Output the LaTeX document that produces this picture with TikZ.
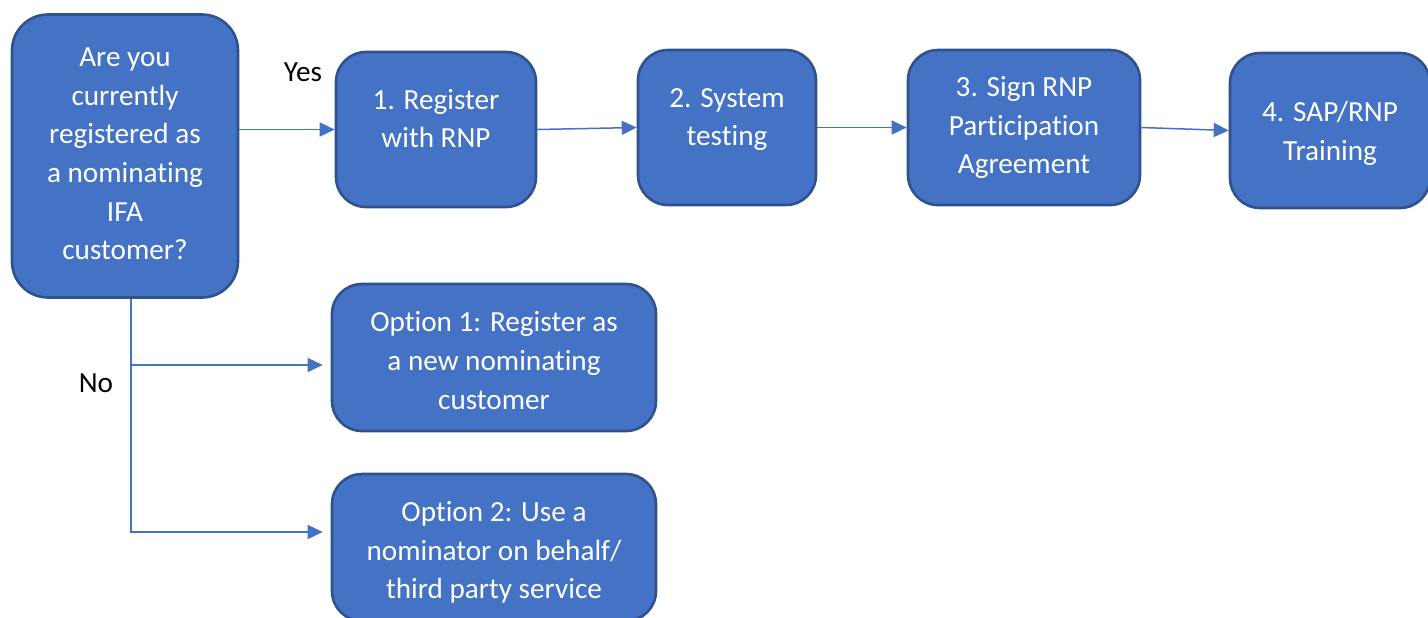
\documentclass[tikz,border=0pt]{standalone}
\usepackage{fontspec}
\setmainfont{Carlito}[Ligatures=NoCommon]
\usetikzlibrary{arrows.meta,positioning}
\definecolor{boxblue}{HTML}{4472C4}
\definecolor{boxedge}{HTML}{2F528F}

\tikzset{
	stepbox/.style={draw=boxedge, line width=1.3pt, fill=boxblue, rounded corners=15pt, inner sep=0pt},
	boxtext/.style={text=white, align=center, inner sep=0pt, font=\fontsize{14.6}{19.3}\selectfont},
	flow/.style={-{Triangle[length=7.5pt,width=7pt]}, line width=0.75pt, color=boxblue},
	answer/.style={font=\fontsize{14.6}{19.3}\selectfont},
}

\begin{document}
\begin{tikzpicture}[x=0.5pt,y=-0.5pt]
		\useasboundingbox (0,0) rectangle (1428,617);
		
		\node[stepbox, rounded corners=18pt, minimum width=113pt, minimum height=141.5pt,
			label={[boxtext, yshift=1pt]center:{Are you\\currently\\registered as\\a nominating\\IFA\\customer?}}] (ask) at (125,156) {};
		
		\node[stepbox, minimum width=100pt, minimum height=77.5pt,
			label={[boxtext, yshift=5.5pt]center:{1. Register\\with RNP}}] (register) at (436,129.5) {};
		\node[stepbox, minimum width=89pt, minimum height=77.5pt,
			label={[boxtext, yshift=4pt]center:{2. System\\testing}}] (testing) at (727,127.5) {};
		\node[stepbox, minimum width=116pt, minimum height=77.5pt,
			label={[boxtext]center:{3. Sign RNP\\Participation\\Agreement}}] (agreement) at (1024,127.5) {};
		\node[stepbox, minimum width=100pt, minimum height=77.5pt,
			label={[boxtext, yshift=-1.5pt]center:{4. SAP/RNP\\Training}}] (training) at (1330,130.5) {};
		
		\node[stepbox, minimum width=162pt, minimum height=73.5pt,
			label={[boxtext, yshift=-1.5pt]center:{Option 1: Register as\\a new nominating\\customer}}] (option1) at (494,357.5) {};
		\node[stepbox, minimum width=162pt, minimum height=73.5pt,
			label={[boxtext, yshift=-2.5pt]center:{Option 2: Use a\\nominator on behalf/\\third party service}}] (option2) at (494,547.5) {};
		
		\node[answer] (yes) at (303,72) {Yes};
		\node[answer] (no) at (96,383) {No};
		
		\draw[flow] (register.west -| ask.east) -- (register.west); % yes
		\draw[flow] (register.east) -- (testing.west);
		\draw[flow] (testing.east) -- (agreement.west);
		\draw[flow] (agreement.east) -- (training.west);
		
		\draw[flow, shorten >=4pt] ([xshift=3pt]ask.south) |- ([yshift=-3.75pt]option1.west); % no
		\draw[flow, shorten >=4pt] ([xshift=3pt]ask.south) |- ([yshift=7.75pt]option2.west); % no
		
	\end{tikzpicture}
\end{document}
